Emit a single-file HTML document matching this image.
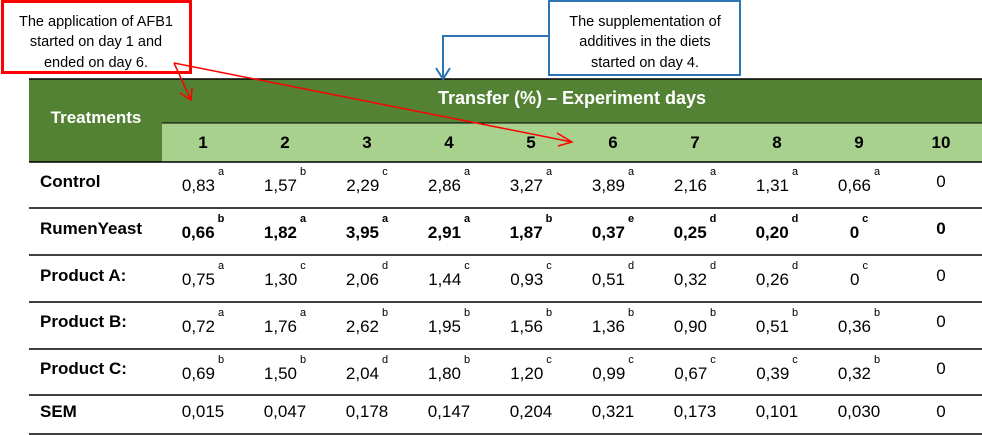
<!DOCTYPE html>
<html><head><meta charset="utf-8"><style>
html,body{margin:0;padding:0;background:#fff;}
svg{display:block;font-family:"Liberation Sans",sans-serif;}
</style></head><body>
<svg width="982" height="435" viewBox="0 0 982 435" xmlns="http://www.w3.org/2000/svg">
<rect x="29" y="79" width="953" height="83" fill="#548235"/>
<rect x="162" y="123" width="820" height="39" fill="#a9d18e"/>
<line x1="29" y1="79" x2="982" y2="79" stroke="#000" stroke-width="1.5"/>
<line x1="162" y1="123" x2="982" y2="123" stroke="#000" stroke-width="1"/>
<g stroke="#000" stroke-width="1.5">
<line x1="29" y1="162" x2="982" y2="162"/>
<line x1="29" y1="208" x2="982" y2="208"/>
<line x1="29" y1="255" x2="982" y2="255"/>
<line x1="29" y1="302" x2="982" y2="302"/>
<line x1="29" y1="349" x2="982" y2="349"/>
<line x1="29" y1="395" x2="982" y2="395"/>
<line x1="29" y1="434" x2="982" y2="434"/>
</g>
<text x="96" y="123" fill="#fff" font-weight="bold" font-size="17" text-anchor="middle">Treatments</text>
<text x="572" y="104" fill="#fff" font-weight="bold" font-size="18" text-anchor="middle">Transfer (%) – Experiment days</text>
<g font-weight="bold" font-size="17" text-anchor="middle" fill="#000">
<text x="203" y="148">1</text><text x="285" y="148">2</text><text x="367" y="148">3</text><text x="449" y="148">4</text><text x="531" y="148">5</text><text x="613" y="148">6</text><text x="695" y="148">7</text><text x="777" y="148">8</text><text x="859" y="148">9</text><text x="941" y="148">10</text>
</g>
<g font-weight="bold" font-size="17" fill="#000">
<text x="40" y="187">Control</text>
<text x="40" y="234">RumenYeast</text>
<text x="40" y="281">Product A:</text>
<text x="40" y="327">Product B:</text>
<text x="40" y="374">Product C:</text>
<text x="40" y="417">SEM</text>
</g>
<g font-size="17" text-anchor="middle" fill="#000">
<text x="203" y="191">0,83<tspan font-size="11" dy="-16" dx="3">a</tspan></text>
<text x="285" y="191">1,57<tspan font-size="11" dy="-16" dx="3">b</tspan></text>
<text x="367" y="191">2,29<tspan font-size="11" dy="-16" dx="3">c</tspan></text>
<text x="449" y="191">2,86<tspan font-size="11" dy="-16" dx="3">a</tspan></text>
<text x="531" y="191">3,27<tspan font-size="11" dy="-16" dx="3">a</tspan></text>
<text x="613" y="191">3,89<tspan font-size="11" dy="-16" dx="3">a</tspan></text>
<text x="695" y="191">2,16<tspan font-size="11" dy="-16" dx="3">a</tspan></text>
<text x="777" y="191">1,31<tspan font-size="11" dy="-16" dx="3">a</tspan></text>
<text x="859" y="191">0,66<tspan font-size="11" dy="-16" dx="3">a</tspan></text>
<text x="941" y="187">0</text>
<g font-weight="bold">
<text x="203" y="238">0,66<tspan font-size="11" dy="-16" dx="3">b</tspan></text>
<text x="285" y="238">1,82<tspan font-size="11" dy="-16" dx="3">a</tspan></text>
<text x="367" y="238">3,95<tspan font-size="11" dy="-16" dx="3">a</tspan></text>
<text x="449" y="238">2,91<tspan font-size="11" dy="-16" dx="3">a</tspan></text>
<text x="531" y="238">1,87<tspan font-size="11" dy="-16" dx="3">b</tspan></text>
<text x="613" y="238">0,37<tspan font-size="11" dy="-16" dx="3">e</tspan></text>
<text x="695" y="238">0,25<tspan font-size="11" dy="-16" dx="3">d</tspan></text>
<text x="777" y="238">0,20<tspan font-size="11" dy="-16" dx="3">d</tspan></text>
<text x="859" y="238">0<tspan font-size="11" dy="-16" dx="3">c</tspan></text>
<text x="941" y="234">0</text>
</g>
<text x="203" y="285">0,75<tspan font-size="11" dy="-16" dx="3">a</tspan></text>
<text x="285" y="285">1,30<tspan font-size="11" dy="-16" dx="3">c</tspan></text>
<text x="367" y="285">2,06<tspan font-size="11" dy="-16" dx="3">d</tspan></text>
<text x="449" y="285">1,44<tspan font-size="11" dy="-16" dx="3">c</tspan></text>
<text x="531" y="285">0,93<tspan font-size="11" dy="-16" dx="3">c</tspan></text>
<text x="613" y="285">0,51<tspan font-size="11" dy="-16" dx="3">d</tspan></text>
<text x="695" y="285">0,32<tspan font-size="11" dy="-16" dx="3">d</tspan></text>
<text x="777" y="285">0,26<tspan font-size="11" dy="-16" dx="3">d</tspan></text>
<text x="859" y="285">0<tspan font-size="11" dy="-16" dx="3">c</tspan></text>
<text x="941" y="281">0</text>
<text x="203" y="332">0,72<tspan font-size="11" dy="-16" dx="3">a</tspan></text>
<text x="285" y="332">1,76<tspan font-size="11" dy="-16" dx="3">a</tspan></text>
<text x="367" y="332">2,62<tspan font-size="11" dy="-16" dx="3">b</tspan></text>
<text x="449" y="332">1,95<tspan font-size="11" dy="-16" dx="3">b</tspan></text>
<text x="531" y="332">1,56<tspan font-size="11" dy="-16" dx="3">b</tspan></text>
<text x="613" y="332">1,36<tspan font-size="11" dy="-16" dx="3">b</tspan></text>
<text x="695" y="332">0,90<tspan font-size="11" dy="-16" dx="3">b</tspan></text>
<text x="777" y="332">0,51<tspan font-size="11" dy="-16" dx="3">b</tspan></text>
<text x="859" y="332">0,36<tspan font-size="11" dy="-16" dx="3">b</tspan></text>
<text x="941" y="327">0</text>
<text x="203" y="379">0,69<tspan font-size="11" dy="-16" dx="3">b</tspan></text>
<text x="285" y="379">1,50<tspan font-size="11" dy="-16" dx="3">b</tspan></text>
<text x="367" y="379">2,04<tspan font-size="11" dy="-16" dx="3">d</tspan></text>
<text x="449" y="379">1,80<tspan font-size="11" dy="-16" dx="3">b</tspan></text>
<text x="531" y="379">1,20<tspan font-size="11" dy="-16" dx="3">c</tspan></text>
<text x="613" y="379">0,99<tspan font-size="11" dy="-16" dx="3">c</tspan></text>
<text x="695" y="379">0,67<tspan font-size="11" dy="-16" dx="3">c</tspan></text>
<text x="777" y="379">0,39<tspan font-size="11" dy="-16" dx="3">c</tspan></text>
<text x="859" y="379">0,32<tspan font-size="11" dy="-16" dx="3">b</tspan></text>
<text x="941" y="374">0</text>
<text x="203" y="417">0,015</text><text x="285" y="417">0,047</text><text x="367" y="417">0,178</text><text x="449" y="417">0,147</text><text x="531" y="417">0,204</text><text x="613" y="417">0,321</text><text x="695" y="417">0,173</text><text x="777" y="417">0,101</text><text x="859" y="417">0,030</text><text x="941" y="417">0</text>
</g>
<rect x="2.5" y="1.5" width="188" height="71" fill="#fff" stroke="#ff0000" stroke-width="3"/>
<g font-size="14.5" text-anchor="middle" fill="#000">
<text x="96" y="26">The application of AFB1</text>
<text x="96" y="46">started on day 1 and</text>
<text x="96" y="67">ended on day 6.</text>
</g>
<rect x="549" y="1" width="191" height="74" fill="#fff" stroke="#2e75b6" stroke-width="2"/>
<g font-size="14.5" text-anchor="middle" fill="#000">
<text x="645" y="26">The supplementation of</text>
<text x="645" y="46">additives in the diets</text>
<text x="645" y="67">started on day 4.</text>
</g>
<polyline points="548,36 443,36 443,79" fill="none" stroke="#2e75b6" stroke-width="2"/>
<polyline points="436,68 443,79 450,68" fill="none" stroke="#2e75b6" stroke-width="2"/>
<g stroke="#ff0000" stroke-width="1.5" fill="none">
<line x1="174" y1="63" x2="191" y2="100"/>
<polyline points="180,93 191,100 192,88"/>
<line x1="174" y1="63" x2="572" y2="142"/>
<polyline points="557,133 572,142 558,146"/>
</g>
</svg>
</body></html>
